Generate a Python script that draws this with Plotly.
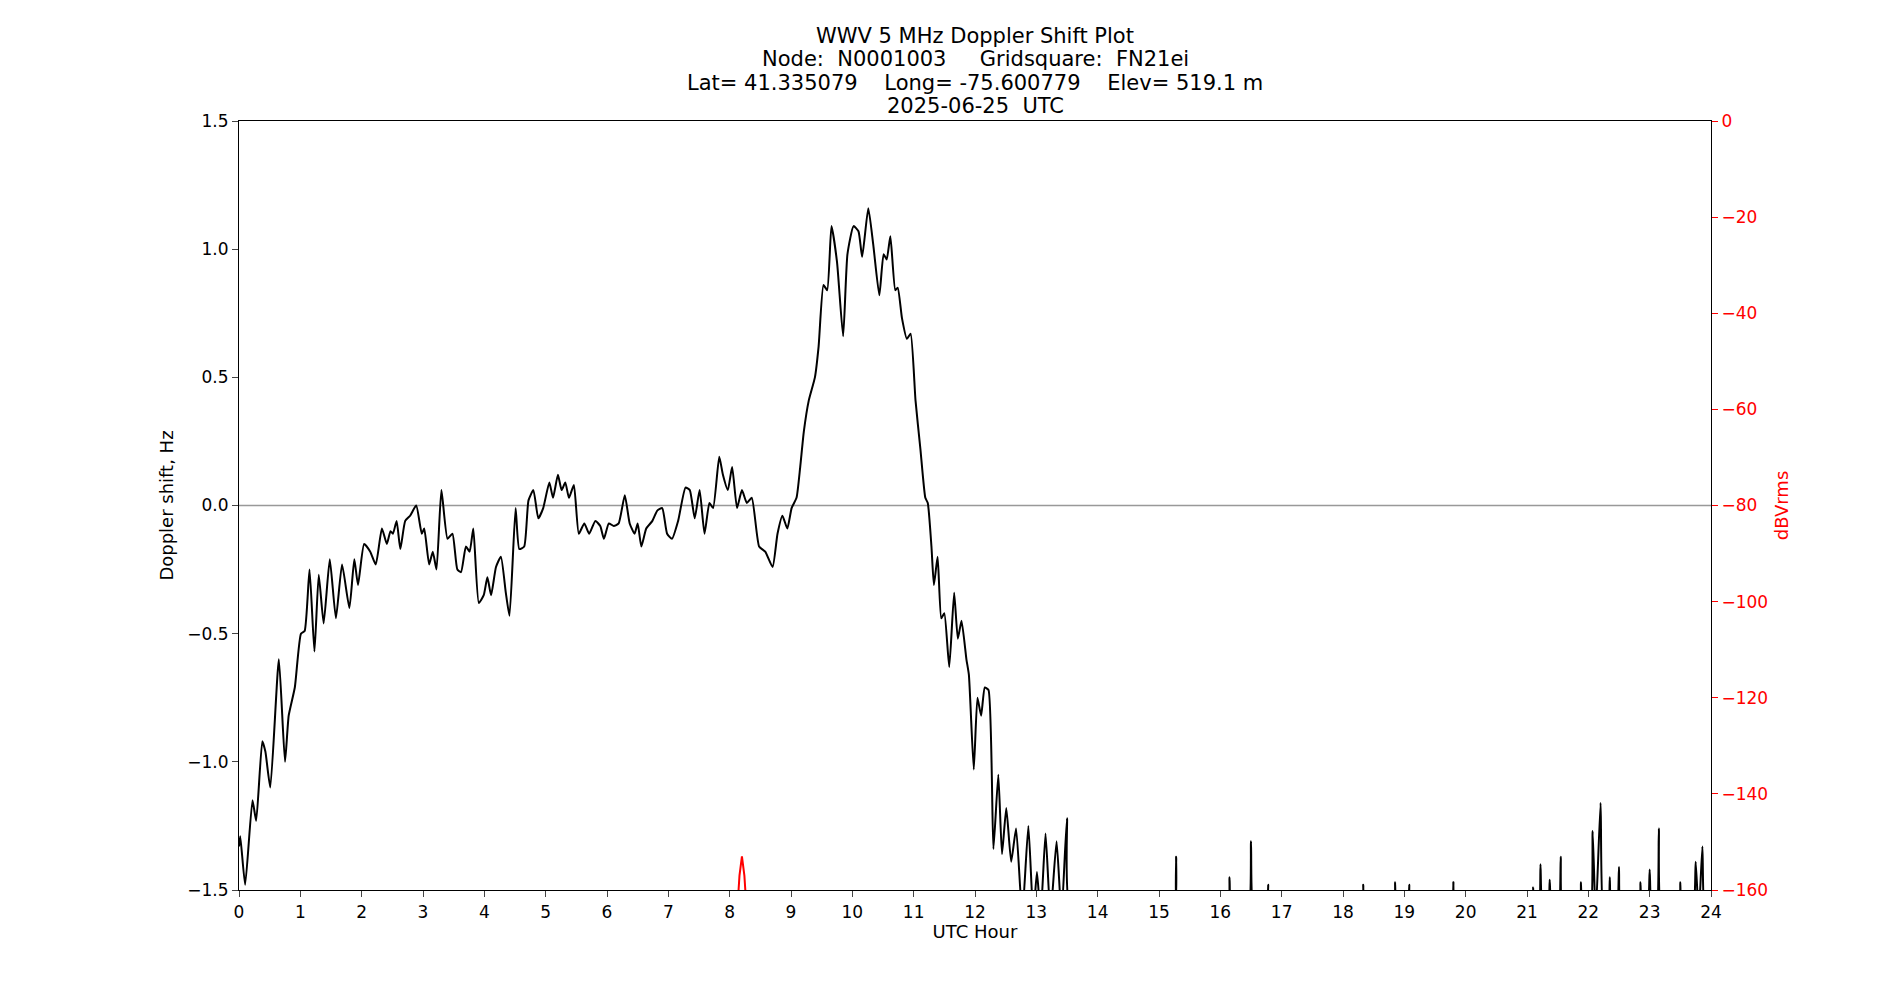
import plotly.graph_objects as go

hours = [0.0,0.02,0.1,0.22,0.28,0.38,0.43,0.51,0.65,0.75,0.81,0.91,1.01,1.07,1.15,1.23,1.3,1.38,1.48,1.58,1.68,1.8,1.88,1.94,2.04,2.14,2.23,2.33,2.41,2.47,2.51,2.57,2.63,2.71,2.79,2.89,2.98,3.02,3.1,3.16,3.22,3.3,3.4,3.48,3.56,3.62,3.7,3.76,3.82,3.91,3.99,4.05,4.11,4.19,4.27,4.35,4.41,4.51,4.57,4.65,4.72,4.8,4.88,4.96,5.06,5.12,5.2,5.26,5.32,5.38,5.46,5.54,5.63,5.71,5.81,5.89,5.95,6.03,6.11,6.19,6.29,6.37,6.45,6.5,6.56,6.64,6.74,6.82,6.9,6.98,7.06,7.16,7.28,7.35,7.43,7.51,7.59,7.67,7.73,7.83,7.89,7.97,8.04,8.12,8.2,8.28,8.36,8.48,8.58,8.7,8.78,8.86,8.94,9.01,9.09,9.15,9.21,9.29,9.39,9.45,9.53,9.59,9.66,9.75,9.85,9.92,10.02,10.1,10.16,10.26,10.34,10.44,10.51,10.56,10.62,10.7,10.74,10.81,10.89,10.95,11.03,11.11,11.19,11.23,11.29,11.33,11.39,11.45,11.5,11.58,11.66,11.72,11.78,11.86,11.9,11.98,12.04,12.1,12.16,12.22,12.3,12.38,12.44,12.51,12.59,12.67,12.77,12.87,12.95,13.01,13.07,13.15,13.23,13.33,13.41,13.5,13.58,
         15.22,15.28,15.32,16.11,16.15,16.19,16.45,16.5,16.55,16.75,16.78,16.81,18.3,18.33,18.36,18.82,18.85,18.88,19.05,19.08,19.11,19.77,19.8,19.83,21.08,21.1,21.12,21.19,21.22,21.26,21.34,21.37,21.41,21.51,21.55,21.59,21.85,21.88,21.91,22.03,22.07,22.12,22.2,22.25,22.32,22.35,22.38,22.46,22.5,22.54,22.82,22.85,22.88,22.96,23.0,23.04,23.11,23.15,23.2,23.47,23.5,23.53,23.7,23.75,23.8,23.86,23.9,23.96,24.0]
doppler = [-1.33,-1.29,-1.48,-1.15,-1.23,-0.92,-0.96,-1.1,-0.6,-1.0,-0.82,-0.71,-0.5,-0.49,-0.25,-0.57,-0.27,-0.46,-0.21,-0.44,-0.23,-0.40,-0.21,-0.31,-0.15,-0.18,-0.23,-0.09,-0.15,-0.1,-0.11,-0.06,-0.17,-0.06,-0.04,0.0,-0.11,-0.09,-0.23,-0.18,-0.25,0.06,-0.13,-0.11,-0.25,-0.26,-0.16,-0.18,-0.09,-0.38,-0.35,-0.28,-0.35,-0.24,-0.2,-0.34,-0.43,-0.01,-0.17,-0.16,0.02,0.06,-0.05,-0.01,0.09,0.03,0.12,0.06,0.09,0.03,0.08,-0.11,-0.07,-0.11,-0.06,-0.08,-0.13,-0.07,-0.08,-0.07,0.04,-0.07,-0.11,-0.07,-0.16,-0.09,-0.06,-0.02,-0.01,-0.11,-0.13,-0.06,0.07,0.06,-0.05,0.06,-0.11,0.01,-0.01,0.19,0.12,0.06,0.15,-0.01,0.06,0.01,0.03,-0.16,-0.18,-0.24,-0.11,-0.04,-0.09,-0.01,0.03,0.15,0.29,0.41,0.5,0.62,0.86,0.84,1.09,0.95,0.66,0.98,1.09,1.07,0.97,1.16,1.02,0.82,0.98,0.96,1.05,0.84,0.85,0.73,0.65,0.67,0.41,0.22,0.03,0.01,-0.16,-0.31,-0.2,-0.44,-0.42,-0.63,-0.34,-0.52,-0.45,-0.6,-0.66,-1.03,-0.75,-0.82,-0.71,-0.72,-1.34,-1.05,-1.36,-1.18,-1.39,-1.26,-1.6,-1.25,-1.6,-1.43,-1.6,-1.28,-1.6,-1.31,-1.6,-1.22,-1.6,
           -1.6,-1.37,-1.6,-1.6,-1.45,-1.6,-1.6,-1.31,-1.6,-1.6,-1.48,-1.6,-1.6,-1.48,-1.6,-1.6,-1.47,-1.6,-1.6,-1.48,-1.6,-1.6,-1.47,-1.6,-1.6,-1.49,-1.6,-1.6,-1.4,-1.6,-1.6,-1.46,-1.6,-1.6,-1.37,-1.6,-1.6,-1.47,-1.6,-1.6,-1.27,-1.6,-1.16,-1.6,-1.6,-1.45,-1.6,-1.6,-1.41,-1.6,-1.6,-1.47,-1.6,-1.6,-1.42,-1.6,-1.6,-1.26,-1.6,-1.6,-1.47,-1.6,-1.6,-1.39,-1.6,-1.33,-1.6,-1.6]

power_hours = [0.0,8.12,8.16,8.2,8.24,8.28,24.0]
power_db = [-165,-165,-157,-153,-157,-165,-165]

title_lines = ["WWV 5 MHz Doppler Shift Plot",
               "Node:  N0001003     Gridsquare:  FN21ei",
               "Lat= 41.335079    Long= -75.600779    Elev= 519.1 m",
               "2025-06-25  UTC"]

fig = go.Figure()
fig.add_trace(go.Scatter(x=hours, y=doppler, mode="lines", line=dict(color="black", width=2, shape="spline", smoothing=0.5), showlegend=False))
fig.add_trace(go.Scatter(x=power_hours, y=power_db, mode="lines", yaxis="y2", line=dict(color="red", width=2), showlegend=False))
fig.add_shape(type="line", xref="paper", x0=0, x1=1, y0=0, y1=0, yref="y", line=dict(color="#999999", width=1.5), layer="below")

for i, t in enumerate(title_lines):
    fig.add_annotation(text=t.replace("  ", "&nbsp; "), xref="paper", yref="paper", x=0.5, y=1 + (113 - (28 + 23.3 * i)) / 769,
                       xanchor="center", yanchor="middle", showarrow=False,
                       font=dict(family="DejaVu Sans", size=21, color="black"))

font = dict(family="DejaVu Sans", size=17, color="black")
fig.update_layout(
    width=1900, height=1000, plot_bgcolor="white", paper_bgcolor="white", font=font,
    margin=dict(l=231, r=197, t=113, b=118),
    xaxis=dict(range=[0, 24], tickmode="linear", tick0=0, dtick=1, showgrid=False, zeroline=False,
               showline=True, mirror=True, linecolor="black", linewidth=1.2, ticks="outside", ticklen=6,
               title=dict(text="UTC Hour", font=dict(size=18), standoff=4)),
    yaxis=dict(range=[-1.5, 1.5], tickvals=[-1.5,-1.0,-0.5,0,0.5,1.0,1.5], tickformat=".1f", showgrid=False, zeroline=False,
               showline=True, mirror=True, linecolor="black", linewidth=1.2, ticks="outside", ticklen=6,
               title=dict(text="Doppler shift, Hz", font=dict(size=18), standoff=8)),
    yaxis2=dict(range=[-160, 0], overlaying="y", side="right", tickvals=[-160,-140,-120,-100,-80,-60,-40,-20,0],
                showgrid=False, zeroline=False, ticks="outside", ticklen=6, tickcolor="red", tickfont=dict(color="red"),
                title=dict(text="dBVrms", font=dict(color="red", size=18), standoff=8)),
)
fig.write_html("out.html")
